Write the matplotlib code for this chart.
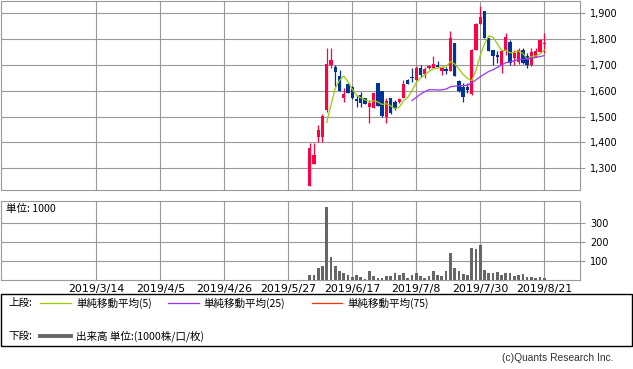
import numpy as np
import pandas as pd
import matplotlib
matplotlib.use("Agg")
import matplotlib.pyplot as plt
from matplotlib.lines import Line2D
from matplotlib.patches import Rectangle
from matplotlib.ticker import FuncFormatter

# daily prices, 2019/6/3 .. 2019/8/21 (trading days)
opens = [1233, 1316, 1423, 1423, 1526, 1700, 1694, 1657, 1571, 1627,
         1614, 1567, 1584, 1571, 1536, 1532, 1629, 1599, 1498, 1574,
         1558, 1558, 1574, 1642, 1652, 1642, 1687, 1665, 1687, 1687,
         1699, 1678, 1685, 1678, 1786, 1638, 1614, 1614, 1588, 1758,
         1859, 1909, 1803, 1758, 1739, 1700, 1756, 1790, 1726, 1713,
         1758, 1735, 1700, 1732, 1752, 1780]
highs = [1399, 1399, 1468, 1510, 1765, 1765, 1700, 1681, 1610, 1632,
         1620, 1584, 1597, 1574, 1565, 1592, 1632, 1599, 1571, 1574,
         1565, 1574, 1642, 1645, 1687, 1696, 1700, 1694, 1700, 1735,
         1716, 1694, 1694, 1832, 1786, 1642, 1629, 1629, 1761, 1862,
         1928, 1909, 1803, 1758, 1756, 1756, 1825, 1797, 1758, 1767,
         1765, 1745, 1767, 1767, 1800, 1823]
lows = [1233, 1316, 1400, 1400, 1520, 1690, 1619, 1601, 1558, 1590,
        1567, 1539, 1539, 1549, 1474, 1532, 1541, 1498, 1474, 1512,
        1526, 1552, 1574, 1627, 1636, 1642, 1655, 1648, 1683, 1687,
        1694, 1661, 1665, 1678, 1657, 1597, 1558, 1590, 1584, 1758,
        1859, 1806, 1756, 1700, 1706, 1670, 1739, 1700, 1700, 1703,
        1705, 1690, 1695, 1730, 1750, 1745]
closes = [1380, 1351, 1448, 1504, 1704, 1719, 1674, 1601, 1588, 1593,
          1571, 1562, 1552, 1549, 1554, 1590, 1541, 1503, 1562, 1516,
          1532, 1570, 1627, 1627, 1648, 1687, 1661, 1683, 1696, 1703,
          1694, 1687, 1678, 1806, 1657, 1599, 1578, 1603, 1758, 1859,
          1885, 1806, 1756, 1735, 1732, 1756, 1807, 1706, 1745, 1758,
          1709, 1700, 1752, 1756, 1797, 1785]
volume = [26, 26, 63, 74, 386, 122, 74, 48, 37, 26,
          18, 26, 18, 5, 48, 21, 11, 11, 21, 21,
          37, 26, 37, 11, 26, 37, 21, 11, 21, 48,
          26, 21, 48, 143, 63, 48, 32, 26, 169, 164,
          185, 53, 37, 37, 42, 26, 37, 37, 21, 26,
          32, 18, 18, 11, 18, 11]

# x grid: every 15 trading days; index 0 = 2019/6/3
grid_pos = [-50, -35, -20, -5, 10, 25, 40, 55]
grid_labels = ['2019/3/14', '2019/4/5', '2019/4/26', '2019/5/27',
               '2019/6/17', '2019/7/8', '2019/7/30', '2019/8/21']
price_ticks = [1300, 1400, 1500, 1600, 1700, 1800, 1900]
vol_ticks = [100, 200, 300]

UP = '#ff0040'
DOWN = '#003399'
GRID = '#999999'
JP = ['Noto Sans CJK JP', 'DejaVu Sans']

W, H = 633, 369
fig = plt.figure(figsize=(W / 100, H / 100), dpi=100)


def box(x0, y0, x1, y1):
    # pixel box (from top-left) -> figure fraction rect
    return [x0 / W, 1 - y1 / H, (x1 - x0) / W, (y1 - y0) / H]


ax = fig.add_axes(box(0.5, 1, 580, 190))
ax2 = fig.add_axes(box(0.5, 201, 580, 280))

x = np.arange(len(closes))
o = np.array(opens)
c = np.array(closes)
up = c >= o
colors = np.where(up, UP, DOWN)
bottom = np.minimum(o, c)
height = np.maximum(np.abs(c - o), 2)

ax.vlines(x, lows, highs, colors=colors, lw=0.9, zorder=3)
ax.bar(x, height, bottom=bottom, width=0.78, color=colors, lw=0, zorder=4)

s = pd.Series(closes, dtype=float)
ax.plot(x, s.rolling(5).mean(), color='#99cc00', lw=0.9, zorder=5)
ax.plot(x, s.rolling(25).mean(), color='#9933ff', lw=0.9, zorder=5)
ax.plot(x, s.rolling(75).mean(), color='#ff3300', lw=0.9, zorder=5)

ax2.bar(x, volume, width=0.63, color='#666666', lw=0, zorder=3)

for a in (ax, ax2):
    a.set_xlim(-72.5, 63.4)
    a.set_xticks(grid_pos)
    a.grid(True, color=GRID, lw=0.8)
    a.set_axisbelow(True)
    for sp in a.spines.values():
        sp.set_color(GRID)
        sp.set_linewidth(0.8)
    a.yaxis.tick_right()
    a.tick_params(axis='y', colors=GRID, length=3.5, width=0.8,
                  labelcolor='black', labelsize=7, pad=4)
    a.tick_params(axis='x', length=0)

ax.set_ylim(1216, 1948)
ax.set_yticks(price_ticks)
ax.yaxis.set_major_formatter(FuncFormatter(lambda v, p: f'{int(v):,}'))
ax.set_xticklabels([])

ax2.set_ylim(0, 415)
ax2.set_yticks(vol_ticks)
ax2.set_xticklabels(grid_labels, fontsize=7.9, fontfamily='DejaVu Sans')
ax2.tick_params(axis='x', pad=3)
ax2.text(6 / 580, 0.9, '単位: 1000', transform=ax2.transAxes,
         fontsize=7.6, family=JP, va='center', ha='left')

# legend box
fig.add_artist(Rectangle((1 / W, 1 - 346 / H), 631 / W, 52 / H,
                         transform=fig.transFigure, fill=False,
                         ec='black', lw=1.0))


def fx(px):
    return px / W


def fy(py):
    return 1 - py / H


fig.text(fx(8), fy(303), '上段:', family=JP, fontsize=7.6, va='center')
fig.add_artist(Line2D([fx(40), fx(71)], [fy(303), fy(303)], color='#99cc00', lw=0.9))
fig.text(fx(76), fy(303), '単純移動平均(5)', family=JP, fontsize=7.6, va='center')
fig.add_artist(Line2D([fx(168), fx(199)], [fy(303), fy(303)], color='#9933ff', lw=0.9))
fig.text(fx(203), fy(303), '単純移動平均(25)', family=JP, fontsize=7.6, va='center')
fig.add_artist(Line2D([fx(312), fx(342)], [fy(303), fy(303)], color='#ff3300', lw=0.9))
fig.text(fx(347), fy(303), '単純移動平均(75)', family=JP, fontsize=7.6, va='center')

fig.text(fx(8), fy(336), '下段:', family=JP, fontsize=7.6, va='center')
fig.add_artist(Line2D([fx(40), fx(71)], [fy(336), fy(336)], color='#666666', lw=2.8))
fig.text(fx(76), fy(336), '出来高 単位:(1000株/口/枚)', family=JP, fontsize=7.6, va='center')

fig.text(fx(614), fy(358), '(c)Quants Research Inc.', family='Liberation Sans',
         fontsize=7.4, ha='right', va='center', color='#333333')

fig.savefig('out.png', dpi=100)
